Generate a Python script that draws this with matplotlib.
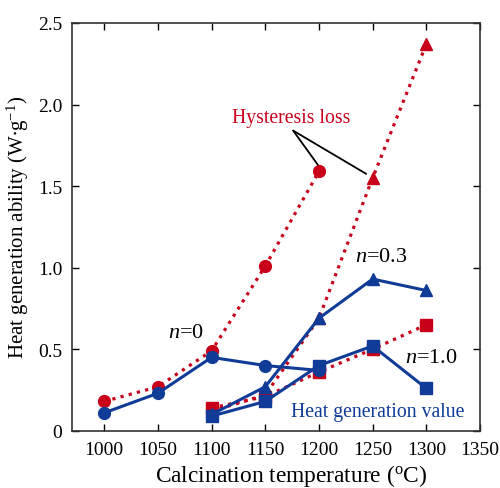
import numpy as np
import matplotlib.pyplot as plt
from matplotlib.ticker import FuncFormatter

plt.rcParams['font.family'] = ['Liberation Serif', 'DejaVu Serif']
plt.rcParams['mathtext.fontset'] = 'custom'
plt.rcParams['mathtext.rm'] = 'Liberation Serif'
plt.rcParams['mathtext.it'] = 'Liberation Serif:italic'

RED = '#c8001a'
BLUE = '#103c98'

# n = 0 (circles)
t0 = [1000, 1050, 1100, 1150, 1200]
loss0 = [0.18, 0.27, 0.49, 1.01, 1.59]
heat0 = [0.11, 0.23, 0.45, 0.40, 0.37]

# n = 0.3 (triangles)
t3 = [1100, 1150, 1200, 1250, 1300]
loss3 = [0.12, 0.22, 0.69, 1.55, 2.37]
heat3 = [0.10, 0.27, 0.69, 0.93, 0.86]

# n = 1.0 (squares)
t10 = [1100, 1150, 1200, 1250, 1300]
loss10 = [0.14, 0.21, 0.36, 0.50, 0.65]
heat10 = [0.09, 0.18, 0.40, 0.52, 0.26]

fig = plt.figure(figsize=(5, 4.89), dpi=100)
ax = fig.add_axes([0.144, 0.117, 0.816, 0.834])

ms = 8.5
for t, y, m in [(t0, loss0, 'o'), (t3, loss3, '^'), (t10, loss10, 's')]:
    ax.plot(t, y, ls=':', lw=2.3, color=RED, marker=m, ms=ms, zorder=2)
for t, y, m in [(t0, heat0, 'o'), (t3, heat3, '^'), (t10, heat10, 's')]:
    ax.plot(t, y, ls='-', lw=2.2, color=BLUE, marker=m, ms=ms, zorder=3)

ax.set_xlim(970, 1350)
ax.set_ylim(0, 2.5)
ax.set_xticks(np.arange(1000, 1351, 50))
ax.set_yticks(np.arange(0, 2.51, 0.5))
ax.yaxis.set_major_formatter(FuncFormatter(lambda v, p: '0' if v == 0 else f'{v:.1f}'))
ax.tick_params(direction='in', top=True, right=True, labelsize=14, length=5, width=1, pad=7)
for s in ax.spines.values():
    s.set_linewidth(1.2)
    s.set_color('#333333')

ax.set_xlabel(r'Calcination temperature ($\mathregular{^{o}}$C)', fontsize=16.8, labelpad=3, x=0.537)
ax.set_ylabel(r'Heat generation ability (W$\bullet$g$\mathregular{^{-1}}$)', fontsize=15, labelpad=5)

ax.text(1174, 1.92, 'Hysteresis loss', color=RED, fontsize=14.2, ha='center', va='center')
ax.annotate('', xy=(1199, 1.63), xytext=(1176, 1.84),
            arrowprops=dict(arrowstyle='-', color='black', lw=1.3, shrinkA=0, shrinkB=0))
ax.annotate('', xy=(1244, 1.575), xytext=(1176, 1.84),
            arrowprops=dict(arrowstyle='-', color='black', lw=1.3, shrinkA=0, shrinkB=0))
ax.text(1076, 0.60, r'$\it{n}$=0', fontsize=16, ha='center', va='center')
ax.text(1258, 1.07, r'$\it{n}$=0.3', fontsize=16, ha='center', va='center')
ax.text(1305, 0.45, r'$\it{n}$=1.0', fontsize=16, ha='center', va='center')
ax.text(1255, 0.12, 'Heat generation value', color=BLUE, fontsize=14.2, ha='center', va='center')

fig.savefig('out.png', dpi=100)
